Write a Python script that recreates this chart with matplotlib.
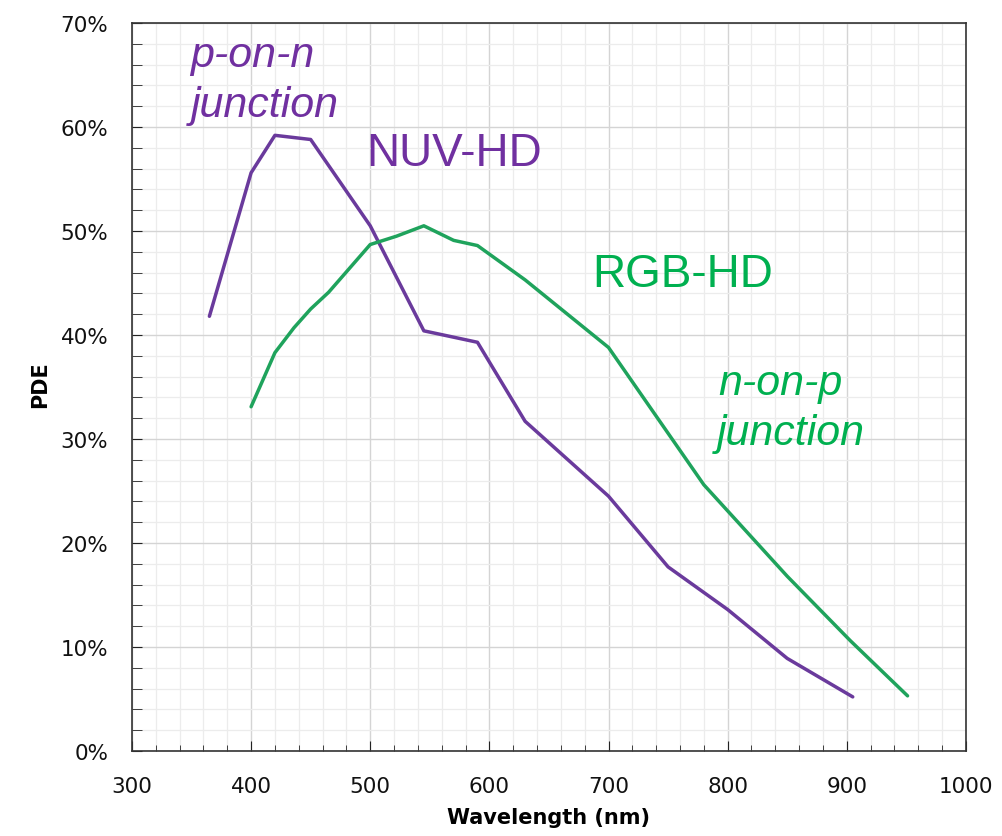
import numpy as np
import matplotlib
matplotlib.use("Agg")
import matplotlib.pyplot as plt
from matplotlib.ticker import MultipleLocator, FuncFormatter

# NUV-HD (p-on-n) curve
nuv_wl = [365, 400, 420, 450, 500, 545, 590, 630, 700, 750, 800, 850, 905]
nuv_pde = [41.8, 55.6, 59.2, 58.8, 50.5, 40.4, 39.3, 31.7, 24.5, 17.7, 13.6, 8.9, 5.2]

# RGB-HD (n-on-p) curve
rgb_wl = [400, 420, 436, 450, 465, 500, 522, 545, 570, 590, 630, 700, 780, 850, 903, 951]
rgb_pde = [33.1, 38.3, 40.7, 42.5, 44.1, 48.7, 49.5, 50.5, 49.1, 48.6, 45.3, 38.8, 25.6, 16.8, 10.6, 5.3]

purple_line = "#6a3a9c"
purple_text = "#7030a0"
green_line = "#1fa35c"
green_text = "#00b050"

fig = plt.figure(figsize=(10.02, 8.37), dpi=100)
ax = fig.add_axes([0.1317, 0.1016, 0.8323, 0.8697])

ax.plot(nuv_wl, nuv_pde, color=purple_line, lw=2.5, solid_capstyle="round")
ax.plot(rgb_wl, rgb_pde, color=green_line, lw=2.5, solid_capstyle="round")

ax.set_xlim(300, 1000)
ax.set_ylim(0, 70)
ax.xaxis.set_major_locator(MultipleLocator(100))
ax.xaxis.set_minor_locator(MultipleLocator(20))
ax.yaxis.set_major_locator(MultipleLocator(10))
ax.yaxis.set_minor_locator(MultipleLocator(2))
ax.yaxis.set_major_formatter(FuncFormatter(lambda v, p: "%d%%" % v))

ax.grid(which="major", color="#d4d4d4", lw=1.0)
ax.grid(which="minor", color="#ececec", lw=0.9)
ax.set_axisbelow(True)

ax.tick_params(axis="both", which="both", direction="in", colors="#222222",
               labelsize=15.5, labelcolor="#111111")
ax.tick_params(axis="x", which="major", length=7, pad=18)
ax.tick_params(axis="x", which="minor", length=4)
ax.tick_params(axis="y", which="both", length=7, pad=17)
for s in ax.spines.values():
    s.set_color("#333333")
    s.set_linewidth(1.2)

ax.set_xlabel("Wavelength (nm)", fontsize=15, fontweight="bold", va="center")
ax.xaxis.set_label_coords(0.5, -0.0907)
ax.set_ylabel("PDE", fontsize=15, fontweight="bold", va="center")
ax.yaxis.set_label_coords(-0.1103, 0.504)

big = dict(family="Liberation Sans", fontsize=33, va="baseline")
ax.text(496.5, 56.3, "NUV-HD", color=purple_text, **big)
ax.text(686, 44.7, "RGB-HD", color=green_text, **big)

it = dict(family="Liberation Sans", fontsize=31, style="italic", va="baseline")
ax.text(349, 65.9, "p-on-n", color=purple_text, **it)
ax.text(349, 61.1, "junction", color=purple_text, **it)
ax.text(792, 34.3, "n-on-p", color=green_text, **it)
ax.text(791, 29.5, "junction", color=green_text, **it)

fig.savefig("out.png", dpi=100)
